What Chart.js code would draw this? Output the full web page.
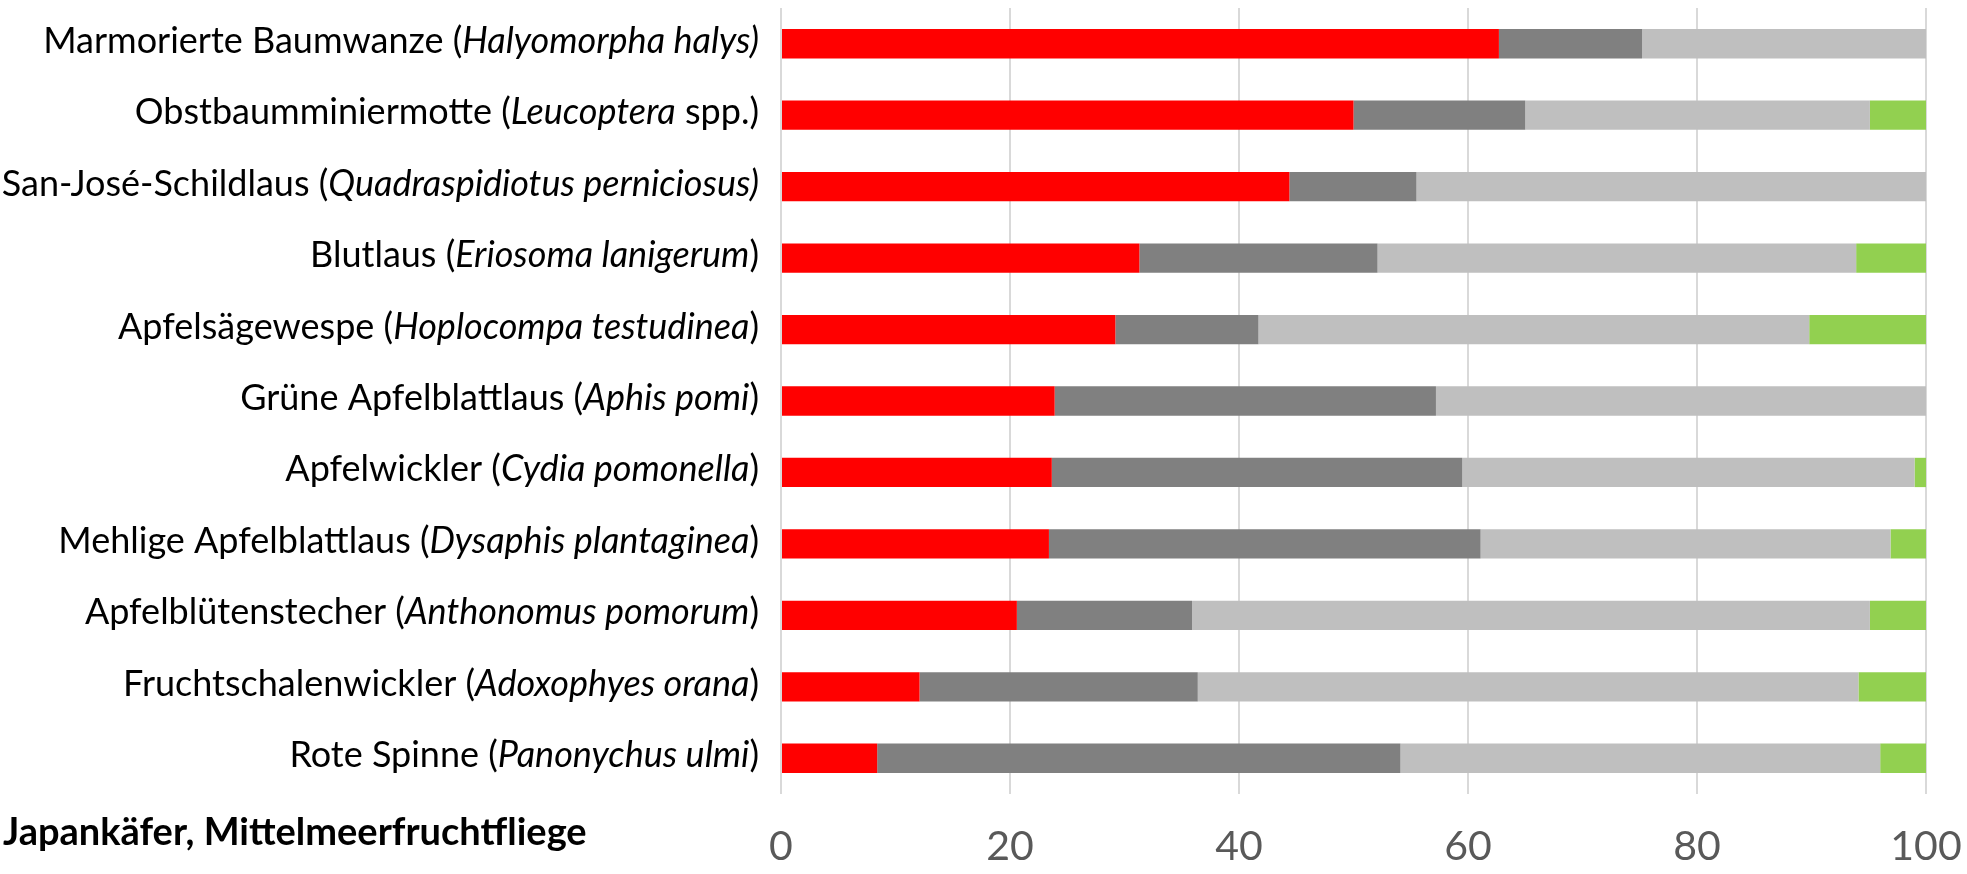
<!DOCTYPE html>
<html>
<head>
<meta charset="utf-8">
<script src="https://cdn.jsdelivr.net/npm/chart.js@4"></script>
<style>
  body { margin: 0; background: #fff; }
  #wrap { width: 1967px; height: 874px; }
</style>
</head>
<body>
<div id="wrap"><canvas id="myChart" width="1967" height="874"></canvas></div>
<script>
// categories, top to bottom
const commonNames = ['Marmorierte Baumwanze', 'Obstbaumminiermotte', 'San-José-Schildlaus', 'Blutlaus',
    'Apfelsägewespe', 'Grüne Apfelblattlaus', 'Apfelwickler', 'Mehlige Apfelblattlaus',
    'Apfelblütenstecher', 'Fruchtschalenwickler', 'Rote Spinne']
const speciesNames = ['Halyomorpha halys)', 'Leucoptera', 'Quadraspidiotus perniciosus)', 'Eriosoma lanigerum',
    'Hoplocompa testudinea', 'Aphis pomi', 'Cydia pomonella', 'Dysaphis plantaginea',
    'Anthonomus pomorum', 'Adoxophyes orana', 'Panonychus ulmi']
const nameTails = ['', ' spp.)', '', ')', ')', ')', ')', ')', ')', ')', ')']

// shares in %, each row sums to 100
const redValues = [62.7, 50.0, 44.4, 31.3, 29.2, 23.9, 23.65, 23.4, 20.6, 12.1, 8.4]
const darkValues = [12.5, 15.0, 11.1, 20.8, 12.5, 33.3, 35.85, 37.7, 15.3, 24.3, 45.7]
const lightValues = [24.8, 30.1, 44.5, 41.8, 48.1, 42.8, 39.5, 35.8, 59.2, 57.7, 41.9]
const greenValues = [0, 4.9, 0, 6.1, 10.2, 0, 1.0, 3.1, 4.9, 5.9, 4.0]

const xTicks = [0, 20, 40, 60, 80, 100]
const noteText = 'Japankäfer, Mittelmeerfruchtfliege'

const labelFont = 'Lato'

// y labels with italic species names
const labelPlugin = {
    id: 'mixedLabels',
    afterDraw(chart) {
        const ctx = chart.ctx
        const y = chart.scales.y
        ctx.save()
        ctx.fillStyle = '#000'
        ctx.textBaseline = 'alphabetic'
        ctx.textAlign = 'left'
        commonNames.forEach((name, i) => {
            const yPix = y.getPixelForValue(i) + 9
            let x = chart.chartArea.left - 22
            const parts = [
                [name + ' (', ''],
                [speciesNames[i], 'italic '],
                [nameTails[i], '']
            ]
            for (let k = parts.length - 1; k >= 0; k--) {
                const [txt, style] = parts[k]
                if (!txt) continue
                ctx.font = style + '36px ' + labelFont
                x -= ctx.measureText(txt).width
                ctx.fillText(txt, x, yPix)
            }
        })
        ctx.font = 'bold 38px ' + labelFont
        ctx.fillText(noteText, 3, 845)
        ctx.restore()
    }
}

const ctx = document.getElementById('myChart')
const chartData = {
    type: 'bar',
    data: {
        labels: commonNames,
        datasets: [
            { data: redValues, backgroundColor: '#ff0000' },
            { data: darkValues, backgroundColor: '#808080' },
            { data: lightValues, backgroundColor: '#bfbfbf' },
            { data: greenValues, backgroundColor: '#92d050' }
        ]
    },
    options: {
        indexAxis: 'y',
        responsive: false,
        animation: false,
        datasets: {
            bar: { categoryPercentage: 1, barPercentage: 0.41, borderWidth: 0 }
        },
        layout: { padding: { left: 781, top: 8, right: 41, bottom: 0 } },
        plugins: { legend: { display: false }, tooltip: { enabled: false } },
        scales: {
            x: {
                stacked: true,
                min: 0,
                max: 100,
                afterBuildTicks: (axis) => { axis.ticks = xTicks.map(v => ({ value: v })) },
                afterFit: (axis) => {
                    axis.height = 80
                    axis.paddingLeft = 0
                    axis.paddingRight = 0
                },
                grid: { color: '#d9d9d9', lineWidth: 2, drawTicks: false },
                border: { display: false },
                ticks: { color: '#595959', padding: 28, font: { family: 'Lato', size: 41 } }
            },
            y: {
                stacked: true,
                display: false
            }
        }
    },
    plugins: [labelPlugin]
}
const myChart = new Chart(ctx, chartData)
</script>
</body>
</html>
